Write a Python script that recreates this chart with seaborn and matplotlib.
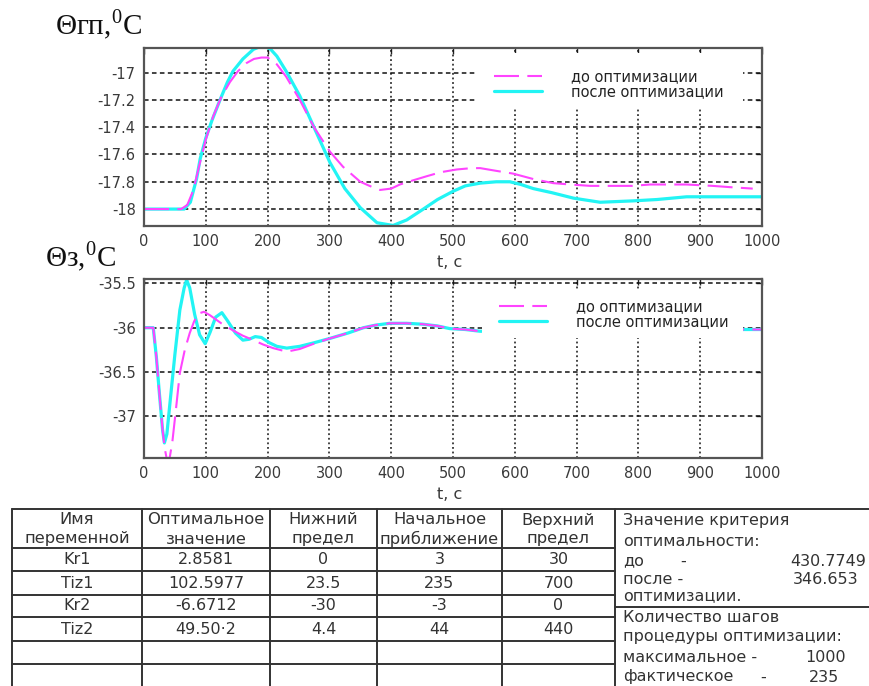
import matplotlib
matplotlib.use("Agg")
import matplotlib.pyplot as plt
from matplotlib.patches import Rectangle
import numpy as np
import pandas as pd
import seaborn as sns

# ---- upper plot: Θгп (°C) vs time ----
t_gp_before = [0, 60, 70, 80, 90, 100, 112, 125, 139, 152, 166, 178, 190, 200, 215, 230,
               252, 275, 301, 322, 350, 370, 382, 400, 414, 435, 457, 480, 506, 530, 544,
               570, 597, 630, 662, 690, 722, 754, 790, 819, 850, 878, 920, 950, 985]
gp_before = [-18.0, -18.0, -17.97, -17.86, -17.67, -17.49, -17.32, -17.18, -17.07, -16.99,
             -16.93, -16.90, -16.89, -16.89, -16.94, -17.03, -17.20, -17.40, -17.58, -17.69,
             -17.80, -17.84, -17.86, -17.85, -17.82, -17.79, -17.76, -17.73, -17.71, -17.70,
             -17.70, -17.72, -17.74, -17.78, -17.81, -17.82, -17.83, -17.83, -17.83, -17.82,
             -17.82, -17.82, -17.83, -17.84, -17.85]

t_gp_after = [0, 65, 75, 85, 91, 100, 110, 123, 135, 144, 160, 177, 193, 205, 215, 230, 252,
              275, 301, 325, 350, 377, 403, 425, 452, 475, 500, 520, 544, 570, 592, 610, 630,
              660, 695, 738, 791, 830, 878, 940, 1000]
gp_after = [-18.0, -18.0, -17.95, -17.78, -17.63, -17.48, -17.35, -17.20, -17.07, -16.99,
            -16.90, -16.83, -16.80, -16.83, -16.88, -16.99, -17.17, -17.40, -17.66, -17.85,
            -17.99, -18.10, -18.12, -18.08, -18.00, -17.93, -17.87, -17.83, -17.81, -17.80,
            -17.80, -17.82, -17.85, -17.88, -17.92, -17.95, -17.94, -17.93, -17.91, -17.91,
            -17.91]

# ---- lower plot: Θз (°C) vs time ----
t_z_before = [0, 15, 20, 25, 30, 34, 38, 42, 46, 52, 58, 66, 74, 81, 88, 97, 107, 125, 144,
              160, 177, 193, 209, 231, 252, 275, 301, 330, 355, 375, 398, 425, 451, 475, 495,
              520, 544, 600, 700, 850, 1000]
z_before = [-36.0, -36.0, -36.33, -36.75, -37.15, -37.38, -37.52, -37.45, -37.28, -36.90,
            -36.51, -36.25, -36.06, -35.93, -35.84, -35.82, -35.86, -35.95, -36.03, -36.09,
            -36.14, -36.19, -36.23, -36.27, -36.24, -36.18, -36.12, -36.06, -36.00, -35.97,
            -35.95, -35.95, -35.96, -35.98, -36.01, -36.02, -36.04, -36.03, -36.02, -36.02,
            -36.02]

t_z_after = [0, 15, 20, 25, 30, 33, 37, 42, 50, 58, 65, 69, 74, 82, 90, 99, 107, 116, 126,
             135, 148, 160, 170, 180, 190, 203, 215, 231, 252, 275, 301, 330, 355, 375, 398,
             425, 451, 475, 495, 520, 544, 600, 700, 850, 1000]
z_after = [-36.0, -36.0, -36.33, -36.75, -37.15, -37.30, -37.20, -36.85, -36.30, -35.80,
           -35.55, -35.46, -35.55, -35.85, -36.08, -36.18, -36.05, -35.88, -35.83, -35.92,
           -36.06, -36.14, -36.13, -36.10, -36.11, -36.17, -36.21, -36.23, -36.21, -36.17,
           -36.12, -36.06, -36.00, -35.97, -35.95, -35.95, -35.96, -35.98, -36.01, -36.02,
           -36.04, -36.03, -36.02, -36.02, -36.02]

legend_labels = ["до оптимизации", "после оптимизации"]
x_ticks = list(range(0, 1001, 100))
gp_ticks = [-18.0, -17.8, -17.6, -17.4, -17.2, -17.0]
gp_tick_labels = ["-18", "-17.8", "-17.6", "-17.4", "-17.2", "-17"]
z_ticks = [-37.0, -36.5, -36.0, -35.5]
z_tick_labels = ["-37", "-36.5", "-36", "-35.5"]

# ---- optimisation table ----
col_headers = [("Имя", "переменной"), ("Оптимальное", "значение"), ("Нижний", "предел"),
               ("Начальное", "приближение"), ("Верхний", "предел")]
var_names = ["Kr1", "Tiz1", "Kr2", "Tiz2"]
opt_values = ["2.8581", "102.5977", "-6.6712", "49.50·2"]
lower_limits = ["0", "23.5", "-30", "4.4"]
initial_values = ["3", "235", "-3", "44"]
upper_limits = ["30", "700", "0", "440"]
criterion_before = "430.7749"
criterion_after = "346.653"
steps_max = "1000"
steps_actual = "235"

sns.set_style("white")
plt.rcParams["font.family"] = ["DejaVu Sans"]
plt.rcParams["mathtext.fontset"] = "custom"
plt.rcParams["mathtext.rm"] = "Liberation Serif"

W, H = 870, 686
fig = plt.figure(figsize=(W / 100, H / 100), dpi=100)

MAGENTA = "#ff44ff"
CYAN = "#22f4f4"
TICK_COL = "#3a3a3a"


def fig_box(left, top, right, bottom):
    return [left / W, 1 - bottom / H, (right - left) / W, (bottom - top) / H]


def style_axes(ax, yticks, ylabels, ylim):
    ax.set_xlim(0, 1000)
    ax.set_ylim(*ylim)
    ax.set_xticks(x_ticks)
    ax.set_xticklabels([str(v) for v in x_ticks])
    ax.set_yticks(yticks)
    ax.set_yticklabels(ylabels)
    ax.tick_params(direction="in", length=4, width=1, colors="#222", labelcolor=TICK_COL,
                   labelsize=10.5, pad=6, right=True, top=True)
    for s in ax.spines.values():
        s.set_linewidth(1.6)
        s.set_color("#555")
    ax.grid(False)
    for y in yticks:
        ax.axhline(y, color="#111", lw=1.1, ls=(0, (3, 2.2)), zorder=1.5)
    for x in x_ticks[1:-1]:
        ax.axvline(x, color="#111", lw=1.1, ls=(0, (1.2, 1.8)), zorder=1.5)
    ax.set_xlabel("t, c", fontsize=11.5, color=TICK_COL)
    ax.xaxis.label.set_va("center")
    ax.xaxis.set_label_coords(0.495, -0.205)


def draw_curves(ax, tb, yb, ta, ya, box, leg_y):
    df_b = pd.DataFrame({"t": tb, "v": yb})
    df_a = pd.DataFrame({"t": ta, "v": ya})
    sns.lineplot(data=df_b, x="t", y="v", ax=ax, color=MAGENTA, linewidth=1.5,
                 label=legend_labels[0], zorder=2.2)
    ax.lines[-1].set_dashes([12, 4])
    sns.lineplot(data=df_a, x="t", y="v", ax=ax, color=CYAN, linewidth=2.3,
                 label=legend_labels[1], zorder=2.1)
    ax.set_ylabel("")
    # opaque legend panel
    ax.add_patch(Rectangle((box[0], box[1]), box[2] - box[0], box[3] - box[1],
                           transform=ax.transAxes, facecolor="white", edgecolor="none",
                           zorder=3))
    leg = ax.legend(loc="upper left", bbox_to_anchor=(box[0] + 0.027, leg_y),
                    frameon=False, fontsize=10.5, handlelength=3.3, handletextpad=2.0,
                    labelspacing=0.0, borderpad=0, borderaxespad=0)
    leg.set_zorder(4)
    for txt in leg.get_texts():
        txt.set_color("#222")


ax1 = fig.add_axes(fig_box(144, 48, 762, 226))
draw_curves(ax1, t_gp_before, gp_before, t_gp_after, gp_after,
            (0.539, 0.663, 0.969, 0.972), 0.88)
style_axes(ax1, gp_ticks, gp_tick_labels, (-18.124, -16.82))

ax2 = fig.add_axes(fig_box(144, 279, 762, 458))
draw_curves(ax2, t_z_before, z_before, t_z_after, z_after,
            (0.547, 0.670, 0.969, 0.939), 0.885)
style_axes(ax2, z_ticks, z_tick_labels, (-37.47, -35.45))

fig.text(55 / W, 1 - 35 / H, r"Θгп,$^{0}$C", fontsize=21, family="Liberation Serif",
         va="baseline", color="#111")
fig.text(45 / W, 1 - 267 / H, r"Θз,$^{0}$C", fontsize=21, family="Liberation Serif",
         va="baseline", color="#111")

# ---- table drawn in pixel coordinates ----
tab = fig.add_axes([0, 0, 1, 1], zorder=-1)
tab.set_xlim(0, W)
tab.set_ylim(H, 0)
tab.axis("off")

LINE = dict(color="#333", lw=1.4)
col_x = [12, 142, 270, 377, 502, 615]
row_y = [548, 571, 595, 617, 641, 664]
tab.plot([12, W], [509, 509], **LINE)
for y in row_y:
    tab.plot([12, 615], [y, y], **LINE)
tab.plot([615, W], [607, 607], **LINE)
for x in col_x:
    tab.plot([x, x], [509, H], **LINE)

centers = [(a + b) / 2 for a, b in zip(col_x[:-1], col_x[1:])]
TXT = dict(ha="center", va="center", color="#333")
for cx, (l1, l2) in zip(centers, col_headers):
    tab.text(cx, 520, l1, fontsize=11.8, **TXT)
    tab.text(cx, 539, l2, fontsize=11.8, **TXT)

cols = [var_names, opt_values, lower_limits, initial_values, upper_limits]
row_centers = [560, 583, 606, 629]
for cx, values in zip(centers, cols):
    for cy, v in zip(row_centers, values):
        tab.text(cx, cy, v, fontsize=11.5, **TXT)

LT = dict(ha="left", va="center", color="#333", fontsize=11.5)
RT = dict(ha="right", va="center", color="#333", fontsize=11.5)
tab.text(623, 521, "Значение критерия", **LT)
tab.text(623, 541, "оптимальности:", **LT)
tab.text(623, 561, "до", **LT)
tab.text(680, 561, "-", **LT)
tab.text(866, 561, criterion_before, **RT)
tab.text(623, 579, "после -", **LT)
tab.text(858, 579, criterion_after, **RT)
tab.text(623, 596, "оптимизации.", **LT)
tab.text(623, 617, "Количество шагов", **LT)
tab.text(623, 637, "процедуры оптимизации:", **LT)
tab.text(623, 657, "максимальное -", **LT)
tab.text(846, 657, steps_max, **RT)
tab.text(623, 677, "фактическое", **LT)
tab.text(760, 677, "-", **LT)
tab.text(839, 677, steps_actual, **RT)

fig.savefig("out.png", dpi=100)
